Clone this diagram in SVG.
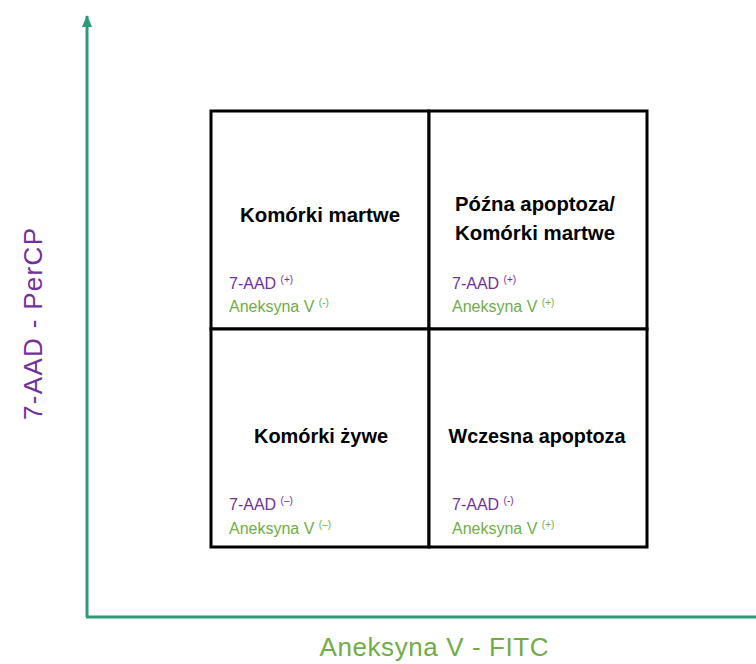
<svg xmlns="http://www.w3.org/2000/svg" width="756" height="664" viewBox="0 0 756 664">
<style>
.title{font-family:"Liberation Sans",Arial,sans-serif;font-weight:bold;font-size:20px;fill:#000;text-anchor:middle}
.aad{font-family:"Liberation Sans",Arial,sans-serif;font-size:16px;fill:#7030A0}
.anx{font-family:"Liberation Sans",Arial,sans-serif;font-size:16px;fill:#70AD47}
.sup{font-size:10px}
.cell{fill:#fff;stroke:#000;stroke-width:3}
.axis{stroke:#2A9D75;stroke-width:3;fill:none}
.axlbl{font-family:"Liberation Sans",Arial,sans-serif;font-size:26px;text-anchor:middle}
</style>
<defs>
<marker id="arr" markerWidth="12" markerHeight="12" refX="11" refY="5" orient="auto" markerUnits="userSpaceOnUse" viewBox="0 0 12 10">
<path d="M0,0 L12,5 L0,10 Z" fill="#2A9D75"/>
</marker>
</defs>
<rect width="756" height="664" fill="#fff"/>
<g id="connectors">
<path class="axis" d="M87,617 L87,16" marker-end="url(#arr)"/>
<path class="axis" d="M86,617 L756,617"/>
</g>
<g id="q-ul">
<rect class="cell" x="211" y="111" width="218" height="218"/>
<text class="title" x="320" y="222" textLength="160" lengthAdjust="spacingAndGlyphs">Komórki martwe</text>
<text class="aad" x="229" y="289">7-AAD <tspan class="sup" dy="-6">(+)</tspan></text>
<text class="anx" x="229" y="312">Aneksyna V <tspan class="sup" dy="-6">(-)</tspan></text>
</g>
<g id="q-ur">
<rect class="cell" x="429" y="111" width="218" height="218"/>
<text class="title" x="535" y="211" textLength="160" lengthAdjust="spacingAndGlyphs">Późna apoptoza/</text>
<text class="title" x="535" y="240" textLength="160" lengthAdjust="spacingAndGlyphs">Komórki martwe</text>
<text class="aad" x="452" y="289">7-AAD <tspan class="sup" dy="-6">(+)</tspan></text>
<text class="anx" x="452" y="312">Aneksyna V <tspan class="sup" dy="-6">(+)</tspan></text>
</g>
<g id="q-ll">
<rect class="cell" x="211" y="329" width="218" height="218"/>
<text class="title" x="321" y="443" textLength="134" lengthAdjust="spacingAndGlyphs">Komórki żywe</text>
<text class="aad" x="229" y="510">7-AAD <tspan class="sup" dy="-6">(–)</tspan></text>
<text class="anx" x="229" y="534">Aneksyna V <tspan class="sup" dy="-6">(–)</tspan></text>
</g>
<g id="q-lr">
<rect class="cell" x="429" y="329" width="218" height="218"/>
<text class="title" x="537" y="443" textLength="177" lengthAdjust="spacingAndGlyphs">Wczesna apoptoza</text>
<text class="aad" x="452" y="510">7-AAD <tspan class="sup" dy="-6">(-)</tspan></text>
<text class="anx" x="452" y="534">Aneksyna V <tspan class="sup" dy="-6">(+)</tspan></text>
</g>
<g id="labels">
<text class="axlbl" x="434" y="656" fill="#70AD47" textLength="229">Aneksyna V - FITC</text>
<text class="axlbl" transform="translate(42,324) rotate(-90)" fill="#7030A0" textLength="192">7-AAD - PerCP</text>
</g>
</svg>
